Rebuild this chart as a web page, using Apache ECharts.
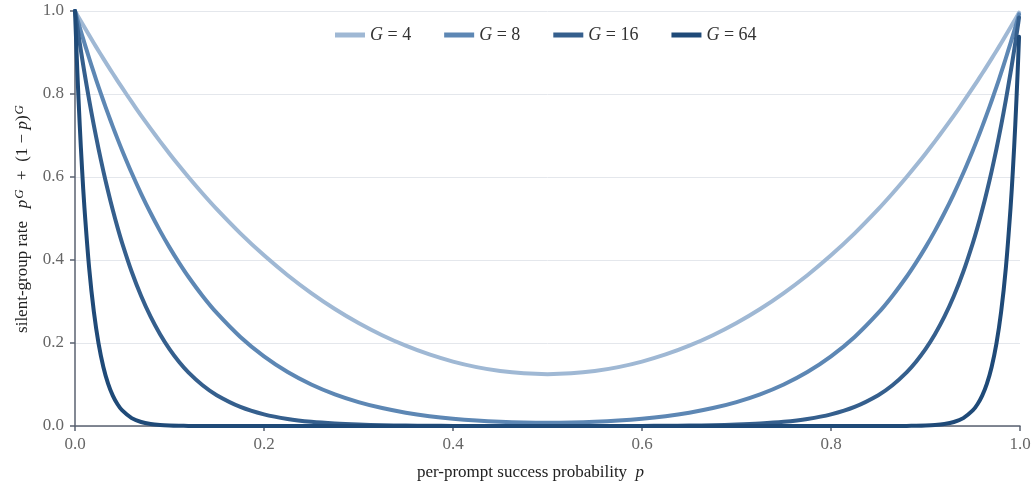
<!DOCTYPE html>
<html>
<head>
<meta charset="utf-8">
<script src="https://cdn.jsdelivr.net/npm/echarts@6/dist/echarts.min.js"></script>
<style>
  html, body { margin: 0; padding: 0; background: #ffffff; }
  #chart { width: 1034px; height: 486px; }
</style>
</head>
<body>
<div id="chart"></div>
<script>
// Per-prompt success probability p (sample positions along the x axis)
const pValues = [
  0, 0.0025, 0.005, 0.0075, 0.01, 0.015, 0.02, 0.025, 0.03, 0.035, 0.04, 0.045, 0.05,
  0.06, 0.07, 0.08, 0.09, 0.10, 0.11, 0.12, 0.135, 0.15, 0.175, 0.2, 0.225, 0.25,
  0.275, 0.3, 0.325, 0.35, 0.375, 0.4, 0.425, 0.45, 0.475, 0.5,
  0.525, 0.55, 0.575, 0.6, 0.625, 0.65, 0.675, 0.7, 0.725, 0.75, 0.775, 0.8, 0.825,
  0.85, 0.865, 0.88, 0.89, 0.9, 0.91, 0.92, 0.93, 0.94, 0.95, 0.955, 0.96, 0.965,
  0.97, 0.975, 0.98, 0.985, 0.99, 0.9925, 0.995, 0.9975, 0.999
];

// Silent-group rate for each group size
const rateG4 = [
  1, 0.99004, 0.98015, 0.97034, 0.96060, 0.94134, 0.92237, 0.90369, 0.88530, 0.86718, 0.84935, 0.83179, 0.81451,
  0.78076, 0.74808, 0.71643, 0.68582, 0.65620, 0.62757, 0.59990, 0.56017, 0.52251, 0.46419, 0.41120, 0.36331, 0.32031,
  0.28200, 0.24820, 0.21875, 0.19351, 0.17236, 0.15520, 0.14194, 0.13251, 0.12688, 0.12500,
  0.12688, 0.13251, 0.14194, 0.15520, 0.17236, 0.19351, 0.21875, 0.24820, 0.28200, 0.32031, 0.36331, 0.41120, 0.46419,
  0.52251, 0.56017, 0.59990, 0.62757, 0.65620, 0.68582, 0.71643, 0.74808, 0.78076, 0.81451, 0.83179, 0.84935, 0.86718,
  0.88530, 0.90369, 0.92237, 0.94134, 0.96060, 0.97034, 0.98015, 0.99004, 0.99601
];
const rateG8 = [
  1, 0.98017, 0.96069, 0.94155, 0.92274, 0.88612, 0.85076, 0.81665, 0.78374, 0.75200, 0.72139, 0.69188, 0.66342,
  0.60957, 0.55958, 0.51322, 0.47025, 0.43047, 0.39366, 0.35963, 0.31342, 0.27249, 0.21460, 0.16778, 0.13015, 0.10013,
  0.07636, 0.05771, 0.04322, 0.03209, 0.02367, 0.01745, 0.01301, 0.01006, 0.00836, 0.00781,
  0.00836, 0.01006, 0.01301, 0.01745, 0.02367, 0.03209, 0.04322, 0.05771, 0.07636, 0.10013, 0.13015, 0.16778, 0.21460,
  0.27249, 0.31342, 0.35963, 0.39366, 0.43047, 0.47025, 0.51322, 0.55958, 0.60957, 0.66342, 0.69188, 0.72139, 0.75200,
  0.78374, 0.81665, 0.85076, 0.88612, 0.92274, 0.94155, 0.96069, 0.98017, 0.99204
];
const rateG16 = [
  1, 0.96074, 0.92293, 0.88652, 0.85146, 0.78520, 0.72380, 0.66692, 0.61425, 0.56551, 0.52040, 0.47869, 0.44013,
  0.37157, 0.31313, 0.26339, 0.22114, 0.18530, 0.15497, 0.12934, 0.09823, 0.07425, 0.04605, 0.02815, 0.01694, 0.01002,
  0.00583, 0.00332, 0.00186, 0.00102, 0.00054, 0.00028, 0.00014, 0.00007, 0.00004, 0.00003,
  0.00004, 0.00007, 0.00014, 0.00028, 0.00054, 0.00102, 0.00186, 0.00332, 0.00583, 0.01002, 0.01694, 0.02815, 0.04605,
  0.07425, 0.09823, 0.12934, 0.15497, 0.18530, 0.22114, 0.26339, 0.31313, 0.37157, 0.44013, 0.47869, 0.52040, 0.56551,
  0.61425, 0.66692, 0.72380, 0.78520, 0.85146, 0.88652, 0.92293, 0.96074, 0.98414
];
const rateG64 = [
  1, 0.85200, 0.72557, 0.61765, 0.52560, 0.38014, 0.27445, 0.19786, 0.14236, 0.10228, 0.07334, 0.05252, 0.03752,
  0.01906, 0.00962, 0.00481, 0.00239, 0.00118, 0.00058, 0.00028, 0.00009, 0.00003, 0, 0, 0, 0,
  0, 0, 0, 0, 0, 0, 0, 0, 0, 0,
  0, 0, 0, 0, 0, 0, 0, 0, 0, 0, 0, 0, 0,
  0.00003, 0.00009, 0.00028, 0.00058, 0.00118, 0.00239, 0.00481, 0.00962, 0.01906, 0.03752, 0.05252, 0.07334, 0.10228,
  0.14236, 0.19786, 0.27445, 0.38014, 0.52560, 0.61765, 0.72557, 0.85200, 0.93798
];

const groupSizes = ['4', '8', '16', '64'];
const seriesRates = [rateG4, rateG8, rateG16, rateG64];
const seriesColors = ['#9fb8d4', '#5d87b4', '#355f8d', '#1f4a78'];

const xTicks = [0, 0.2, 0.4, 0.6, 0.8, 1.0];
const yTicks = [0, 0.2, 0.4, 0.6, 0.8, 1.0];

const serif = '"Liberation Serif", "DejaVu Serif", serif';

const chart = echarts.init(document.getElementById('chart'), null, { renderer: 'canvas' });

const series = groupSizes.map((g, i) => ({
  name: 'G = ' + g,
  type: 'line',
  data: pValues.map((p, k) => [p, seriesRates[i][k]]),
  showSymbol: false,
  smooth: 0.3,
  lineStyle: { width: 4, color: seriesColors[i], cap: 'round', join: 'round' },
  itemStyle: { color: seriesColors[i] },
  z: 2 + i,
  animation: false
}));

chart.setOption({
  backgroundColor: '#ffffff',
  animation: false,
  grid: { left: 75, right: 14, top: 11, bottom: 58, containLabel: false },
  legend: {
    top: 21,
    left: 330,
    itemWidth: 30,
    itemHeight: 5,
    itemGap: 33,
    icon: 'rect',
    data: groupSizes.map(g => 'G = ' + g),
    formatter: function (name) {
      return '{i|G} = ' + name.split('= ')[1];
    },
    textStyle: {
      fontFamily: serif,
      fontSize: 18,
      color: '#333333',
      rich: {
        i: { fontFamily: serif, fontStyle: 'italic', fontSize: 18, color: '#333333' }
      }
    }
  },
  xAxis: {
    type: 'value',
    min: 0,
    max: 1,
    interval: 0.2,
    name: '{t|per-prompt success probability}  {i|p}',
    nameLocation: 'middle',
    nameGap: 38,
    nameTextStyle: {
      fontFamily: serif,
      fontSize: 17,
      color: '#222222',
      padding: [0, 34, 0, 0],
      rich: {
        t: { fontFamily: serif, fontSize: 17, color: '#222222' },
        i: { fontFamily: serif, fontSize: 17, fontStyle: 'italic', color: '#222222' }
      }
    },
    axisLine: { show: true, lineStyle: { color: '#5a6270', width: 1.5 } },
    axisTick: { show: true, length: 5, lineStyle: { color: '#5a6270', width: 1.5 } },
    axisLabel: {
      fontFamily: serif,
      fontSize: 17,
      color: '#666666',
      margin: 10,
      formatter: v => xTicks.includes(Math.round(v * 10) / 10) ? v.toFixed(1) : ''
    },
    splitLine: { show: false }
  },
  yAxis: {
    type: 'value',
    min: 0,
    max: 1,
    interval: 0.2,
    name: '{t|silent-group rate}   {i|p}{s|G}{t|  +  (1 − }{i|p}{t|)}{s|G}',
    nameLocation: 'middle',
    nameGap: 42,
    nameRotate: 90,
    nameTextStyle: {
      fontFamily: serif,
      fontSize: 17,
      color: '#222222',
      rich: {
        t: { fontFamily: serif, fontSize: 17, color: '#222222', lineHeight: 20 },
        i: { fontFamily: serif, fontSize: 17, fontStyle: 'italic', color: '#222222', lineHeight: 20 },
        s: { fontFamily: serif, fontSize: 13, fontStyle: 'italic', color: '#222222', lineHeight: 13, verticalAlign: 'top', padding: [0, 1, 0, 1] }
      }
    },
    axisLine: { show: true, lineStyle: { color: '#5a6270', width: 1.5 } },
    axisTick: { show: true, length: 5, lineStyle: { color: '#5a6270', width: 1.5 } },
    axisLabel: {
      fontFamily: serif,
      fontSize: 17,
      color: '#666666',
      margin: 11,
      formatter: v => yTicks.includes(Math.round(v * 10) / 10) ? v.toFixed(1) : ''
    },
    splitLine: { show: true, lineStyle: { color: '#e4e7ec', width: 1 } }
  },
  series: series
});
</script>
</body>
</html>
